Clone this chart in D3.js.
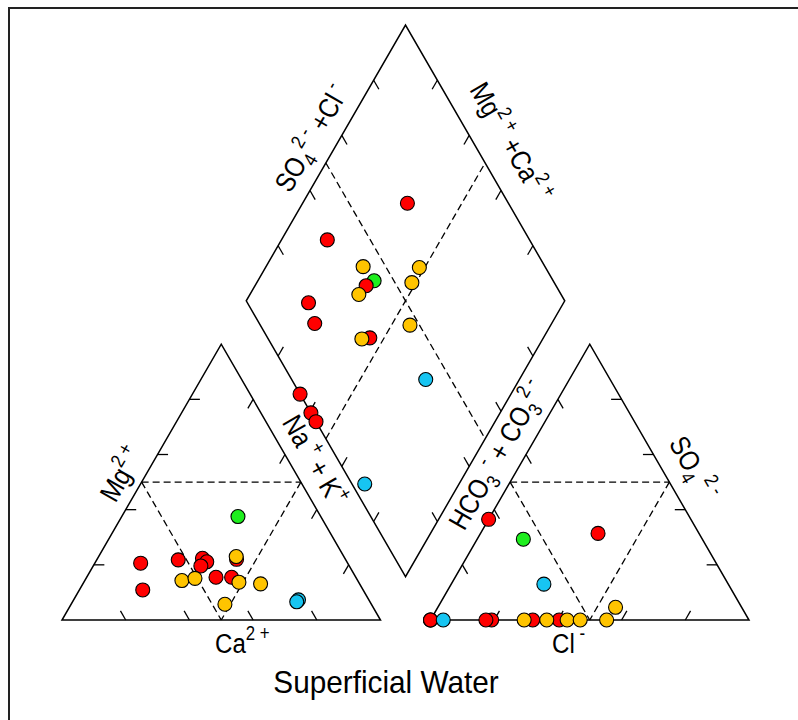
<!DOCTYPE html>
<html><head><meta charset="utf-8">
<script src="https://cdn.jsdelivr.net/npm/d3@7/dist/d3.min.js"></script>
<style>
body{margin:0;background:#fff}
svg{display:block}
text{font-family:"Liberation Sans",Arial,Helvetica,sans-serif;fill:#000}
</style>
</head><body>
<svg id="chart" width="798" height="720"></svg>
<script>
// ---------------- data (percent of meq) ----------------
const sampleGroup = ["Green","Red","Red","Red","Red","Red","Red","Red","Red","Red",
                     "Gold","Gold","Gold","Gold","Gold","Gold","Cyan","Cyan"];
// cations
const mgPct  = [37.5, 20.6, 10.9, 21.8, 22.4, 21.1, 19.6, 15.5, 15.5, 22.0,
                14.3, 15.1, 13.7, 13.1, 5.7, 23.0, 7.3, 6.6];
const nakPct = [36.5, 14.4, 19.9, 25.6, 32.9, 34.9, 33.8, 40.6, 45.5, 43.8,
                30.5, 34.2, 48.7, 55.8, 48.3, 43.2, 70.6, 70.4];
// anions
const so4Pct = [29.3, 36.5, 0, 0, 31.4, 0, 0, 0, 0, 0,
                0, 0, 0, 0, 4.6, 0, 13.0, 0];
const clPct  = [14.5, 0, 19.2, 17.4, 36.9, 40.4, 0, 0, 32.1, 0,
                42.9, 36.5, 55.3, 47.0, 55.8, 29.4, 29.1, 4.0];
const groupColor = {Red:"#ff0000", Gold:"#ffc400", Green:"#1eee1e", Cyan:"#17c5f2"};
const tickPct = [20, 40, 60, 80];
const chartTitle = "Superficial Water";

// ---------------- geometry ----------------
const svg = d3.select("#chart");
const S3 = Math.sqrt(3) / 2;
const side = 318.5, gap = 50, baseY = 620, catX0 = 62;
const anX0 = catX0 + side + gap;
const pct = d3.scaleLinear().domain([0, 100]).range([0, side]);
const catXY = (mg, nak) => [catX0 + pct(nak) + pct(mg) / 2, baseY - pct(mg) * S3];
const anXY  = (so4, cl) => [anX0 + pct(cl) + pct(so4) / 2, baseY - pct(so4) * S3];
const Bx = catX0 + side + gap / 2, By = baseY - gap * S3;
const diaXY = (camg, so4cl) => [Bx + (pct(so4cl) - pct(camg)) / 2, By - (pct(camg) + pct(so4cl)) * S3];

// frame
svg.append("rect").attr("x", 9).attr("y", 8).attr("width", 800).attr("height", 720)
  .attr("fill", "none").attr("stroke", "#222").attr("stroke-width", 2);

const line = d3.line();
const poly = pts => svg.append("path").attr("d", line(pts) + "Z")
  .attr("fill", "none").attr("stroke", "#000").attr("stroke-width", 1.5).attr("stroke-linejoin", "miter");
const dash = (a, b) => svg.append("path").attr("d", line([a, b]))
  .attr("fill", "none").attr("stroke", "#000").attr("stroke-width", 1.3).attr("stroke-dasharray", "7,4");
const TL = 10.5;
const tick = (p, dir) => svg.append("path")
  .attr("d", line([p, [p[0] + dir[0] * TL, p[1] + dir[1] * TL]]))
  .attr("stroke", "#000").attr("stroke-width", 1.3);

// outlines
poly([catXY(0, 0), catXY(0, 100), catXY(100, 0)]);
poly([anXY(0, 0), anXY(0, 100), anXY(100, 0)]);
poly([diaXY(0, 0), diaXY(100, 0), diaXY(100, 100), diaXY(0, 100)]);

// dashed guides
dash(catXY(50, 0), catXY(50, 50)); dash(catXY(50, 0), catXY(0, 50)); dash(catXY(50, 50), catXY(0, 50));
dash(anXY(50, 0), anXY(50, 50)); dash(anXY(50, 0), anXY(0, 50)); dash(anXY(50, 50), anXY(0, 50));
dash(diaXY(100, 50), diaXY(0, 50)); dash(diaXY(50, 0), diaXY(50, 100));

// ticks
tickPct.forEach(p => {
  tick(catXY(0, p), [-0.5, -S3]);          // Ca (base)
  tick(catXY(p, 0), [1, 0]);               // Mg (left)
  tick(catXY(p, 100 - p), [-0.5, S3]);     // Na+K (right)
  tick(anXY(0, p), [0.5, -S3]);            // Cl (base)
  tick(anXY(p, 0), [0.5, S3]);             // HCO3 (left)
  tick(anXY(p, 100 - p), [-1, 0]);         // SO4 (right)
  tick(diaXY(100, p), [0.5, S3]);          // upper-left
  tick(diaXY(p, 100), [-0.5, S3]);         // upper-right
  tick(diaXY(p, 0), [0.5, -S3]);           // lower-left
  tick(diaXY(0, p), [-0.5, -S3]);          // lower-right
});

// labels
function label(parts, x, y, angle, size, anchor, sx) {
  const g = svg.append("g").attr("transform", `translate(${x},${y}) rotate(${angle})`);
  const t = g.append("text").attr("font-size", size).attr("text-anchor", anchor || "middle")
    .attr("transform", `scale(${sx || 0.86},1)`).attr("y", size * 0.36);
  let cur = 0;
  parts.forEach(([txt, lvl]) => {
    const target = lvl === 1 ? -0.45 * size : lvl === -1 ? 0.25 * size : 0;
    const ts = t.append("tspan").text(txt).attr("dy", target - cur);
    if (lvl !== 0) ts.attr("font-size", size * 0.7);
    cur = target;
  });
}
const LS = 28;
label([["Mg",0],["2 +",1]], 121, 474, -60, LS);
label([["Na",0],[" +",1],[" + K",0],["+",1]], 315, 460, 60, LS);
label([["SO",0],["4",-1],["2 -",1],[" +Cl",0],[" -",1]], 311, 138, -60, LS);
label([["Mg",0],["2 +",1],[" +Ca",0],["2 +",1]], 511, 142, 60, LS);
label([["HCO",0],["3",-1],[" -",1],["  + CO",0],["3",-1],["2 -",1]], 497, 455, -60, LS);
label([["SO",0],["4",-1],[" 2 -",1]], 694, 468, 60, LS);
label([["Ca",0],["2 +",1]], 215, 643, 0, LS, "start");
label([["Cl",0],[" -",1]], 552, 643, 0, LS, "start");
svg.append("text").attr("x", 386).attr("y", 693).attr("text-anchor", "middle")
  .attr("font-size", 32).attr("transform", "translate(386,0) scale(0.93,1) translate(-386,0)")
  .text(chartTitle);

// points
const idx = d3.range(sampleGroup.length);
const R = 7;
const dot = (xy, col) => svg.append("circle").attr("cx", xy[0]).attr("cy", xy[1]).attr("r", R)
  .attr("fill", col).attr("stroke", "#000").attr("stroke-width", 1.1);
idx.forEach(i => {
  const col = groupColor[sampleGroup[i]];
  dot(catXY(mgPct[i], nakPct[i]), col);
  dot(anXY(so4Pct[i], clPct[i]), col);
  dot(diaXY(100 - nakPct[i], so4Pct[i] + clPct[i]), col);
});
</script>
</body></html>
